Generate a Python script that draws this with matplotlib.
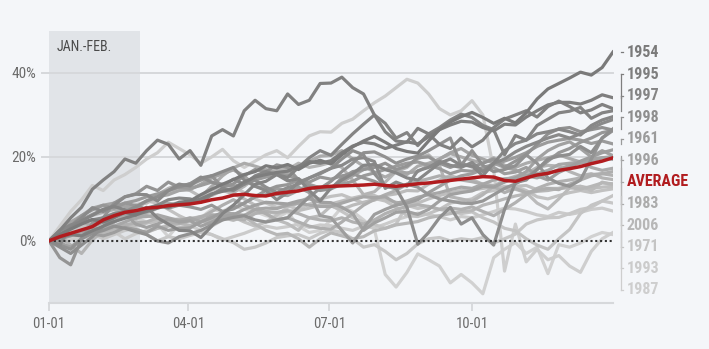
import numpy as np
import matplotlib.pyplot as plt

# weekly closes, % change since Jan 1 (S&P 500 years with a positive Jan. and Feb.)
days = np.arange(0, 365, 7)

y1954 = [0, 1.5, 2.8, 4.0, 5.1, 4.5, 5.6, 6.8, 6.2, 7.5, 8.3, 8.0, 9.2,
         9.5, 11.0, 12.3, 13.5, 14.6, 15.8, 16.5, 17.9, 17.4, 18.2, 17.0, 18.5, 19.2,
         18.3, 20.5, 22.4, 23.8, 24.9, 23.5, 22.0, 21.3, 20.9, 23.8, 26.5, 28.3, 29.6,
         30.6, 29.4, 28.0, 29.2, 28.1, 30.5, 33.8, 36.2, 37.5, 38.8, 40.2, 39.5, 41.3, 45.0]
y1995 = [0, 0.8, 1.5, 1.2, 2.4, 3.5, 4.6, 5.4, 6.2, 7.0, 7.8, 8.5, 8.9,
         9.2, 10.0, 11.2, 11.8, 12.4, 14.0, 15.2, 15.8, 16.3, 16.6, 17.8, 18.9, 18.5,
         19.1, 21.0, 22.6, 23.5, 23.1, 22.0, 22.8, 23.6, 23.1, 24.8, 26.5, 27.6, 28.5,
         28.3, 27.0, 26.2, 27.8, 27.6, 29.5, 31.0, 32.4, 33.0, 33.0, 32.6, 33.5, 34.8, 34.1]
y1997 = [0, 1.5, 3.0, 4.8, 6.1, 7.5, 8.2, 7.4, 6.8, 8.0, 5.5, 4.0, 2.5,
         2.4, 0.8, 3.5, 6.5, 8.5, 11.0, 13.5, 14.2, 15.8, 15.1, 17.5, 19.8, 21.5,
         20.4, 23.0, 25.5, 27.8, 30.0, 28.0, 24.5, 25.8, 22.7, 25.5, 27.0, 28.8, 30.2,
         29.4, 27.5, 26.5, 20.5, 25.1, 24.0, 27.5, 29.0, 30.5, 30.9, 31.8, 29.2, 30.5, 31.0]
y1998 = [0, -1.5, -3.0, -1.0, 1.0, 3.5, 5.5, 7.0, 8.1, 9.5, 10.5, 12.0, 13.0,
         13.6, 15.2, 14.0, 13.0, 14.7, 13.5, 14.5, 12.8, 11.5, 12.7, 13.5, 15.0, 16.2,
         17.3, 19.5, 21.5, 20.5, 16.0, 13.0, 12.5, 8.0, -0.8, 2.0, 5.5, 8.0, 4.0,
         5.5, 1.5, -1.0, 7.5, 13.9, 14.5, 17.0, 19.5, 20.2, 20.6, 22.5, 21.0, 24.5, 26.7]
y1961 = [0, 1.8, 3.5, 5.0, 6.3, 7.5, 8.2, 9.0, 9.6, 10.5, 11.2, 12.0, 12.8,
         12.5, 13.2, 14.0, 13.5, 12.9, 13.8, 14.5, 15.2, 16.0, 15.6, 14.8, 13.2, 12.8,
         12.4, 13.5, 14.2, 15.5, 16.2, 17.0, 17.8, 18.5, 18.8, 18.0, 17.2, 16.0, 16.8,
         16.6, 17.5, 18.2, 19.0, 19.9, 21.0, 22.5, 23.5, 24.0, 24.4, 24.0, 23.2, 23.8, 23.1]
y1996 = [0, -0.5, -1.5, 0.5, 3.3, 4.5, 5.8, 6.5, 4.0, 3.2, 4.0, 5.2, 4.5,
         4.8, 3.5, 4.5, 5.8, 6.2, 7.5, 8.5, 9.2, 9.0, 8.8, 9.5, 10.0, 9.2,
         9.1, 8.0, 6.5, 2.5, 4.3, 5.5, 6.8, 7.0, 6.3, 7.5, 9.5, 11.0, 11.5,
         11.9, 13.0, 12.8, 14.0, 15.0, 16.5, 19.5, 21.5, 22.8, 23.6, 22.0, 20.0, 21.5, 20.3]
y1983 = [0, 2.0, 3.5, 4.8, 3.3, 2.5, 4.5, 6.0, 5.3, 6.8, 8.0, 9.0, 8.5,
         9.2, 10.5, 13.0, 15.5, 17.4, 18.5, 17.8, 17.0, 16.2, 16.0, 17.5, 19.0, 20.2,
         20.4, 21.5, 19.5, 17.8, 16.4, 15.2, 16.5, 15.8, 17.8, 18.5, 19.5, 20.8, 20.0,
         19.2, 18.5, 19.8, 18.0, 17.5, 18.5, 19.2, 19.8, 20.5, 19.6, 18.8, 17.5, 16.8, 17.3]
y2006 = [0, 1.0, 2.2, 1.5, 2.5, 2.0, 2.8, 3.2, 2.6, 2.0, 3.0, 3.5, 4.2,
         3.7, 4.5, 5.0, 5.5, 4.9, 5.8, 4.0, 2.5, 1.5, 1.8, 0.5, -1.5, 0.5,
         1.9, 1.2, 0.5, 1.0, 2.4, 3.0, 3.8, 4.2, 4.6, 5.5, 6.0, 6.5, 7.0,
         7.2, 8.5, 9.2, 10.0, 10.7, 11.2, 11.8, 12.0, 12.5, 12.7, 12.3, 13.0, 13.8, 13.6]
y1971 = [0, 1.0, 2.5, 3.2, 4.0, 4.5, 5.5, 6.2, 5.0, 6.5, 7.8, 8.5, 9.2,
         8.9, 10.5, 12.0, 13.2, 13.0, 11.5, 10.0, 9.0, 8.0, 8.4, 7.5, 8.8, 9.5,
         8.5, 7.0, 5.5, 4.5, 3.9, 3.0, 4.0, 8.5, 7.7, 8.2, 7.5, 7.0, 6.5,
         6.9, 5.5, 4.5, 3.0, 2.4, 0.5, -1.0, -2.0, 0.5, 2.7, 6.5, 8.5, 9.5, 10.8]
y1993 = [0, -0.5, 0.2, 1.0, 0.7, 1.5, 2.2, 0.5, 1.7, 2.5, 3.0, 3.8, 3.2,
         3.6, 2.5, 1.5, 0.2, 1.0, 1.8, 2.8, 3.5, 3.0, 3.4, 4.0, 3.2, 3.8,
         3.6, 3.0, 2.5, 3.5, 3.1, 4.0, 5.0, 5.8, 6.6, 6.2, 5.8, 5.0, 5.8,
         5.5, 6.2, 7.0, 7.8, 7.6, 7.0, 6.2, 5.8, 6.8, 6.3, 6.8, 7.5, 7.8, 7.1]
y1987 = [0, 3.5, 7.0, 9.8, 13.2, 12.0, 14.5, 15.8, 17.5, 19.5, 21.0, 23.5, 22.0,
         20.5, 18.5, 20.0, 21.8, 19.1, 17.5, 19.0, 20.5, 21.5, 19.8, 22.5, 25.0, 26.0,
         25.9, 28.0, 29.0, 31.0, 32.9, 34.5, 36.5, 38.5, 37.6, 35.0, 31.5, 30.0, 31.0,
         33.4, 30.0, 17.0, -7.2, 4.0, -5.0, -2.0, -4.5, -3.5, -6.0, -7.5, -2.5, 0.5, 2.0]
y1975 = [0, 2.5, 5.5, 8.0, 12.3, 14.5, 16.5, 19.5, 18.5, 21.5, 24.0, 23.0, 19.5,
         21.5, 18.0, 25.0, 26.5, 25.0, 31.0, 33.5, 31.5, 31.0, 35.0, 32.5, 33.5, 37.5,
         37.6, 39.0, 36.5, 35.0, 30.0, 26.0, 23.8, 23.5, 26.8, 25.5, 23.0, 22.0, 24.5,
         22.4, 24.0, 27.0, 29.0, 30.0, 31.0, 29.5, 32.0, 33.3, 32.0, 30.5, 31.2, 32.5, 31.5]
y2013 = [0, 2.5, 3.8, 4.5, 5.0, 5.5, 6.5, 7.0, 6.2, 7.8, 8.5, 9.8, 10.2,
         10.0, 9.2, 11.0, 12.5, 12.0, 13.5, 15.5, 16.5, 15.8, 14.3, 14.8, 12.0, 9.5,
         12.6, 14.5, 16.0, 18.0, 18.2, 17.0, 16.2, 15.0, 14.5, 16.5, 18.5, 19.5, 18.0,
         17.9, 15.5, 18.5, 21.5, 23.2, 24.0, 25.5, 26.0, 26.6, 26.0, 25.2, 27.5, 28.8, 29.6]
y2019 = [0, -1.0, 3.5, 5.5, 7.9, 7.0, 8.5, 10.5, 11.1, 11.0, 9.5, 12.0, 13.5,
         13.1, 15.0, 15.5, 16.5, 17.5, 14.5, 13.0, 12.0, 9.8, 11.5, 14.0, 15.0, 16.0,
         17.3, 18.0, 19.5, 19.8, 18.9, 12.5, 14.0, 13.0, 16.7, 17.5, 19.0, 18.0, 17.5,
         18.7, 16.5, 18.5, 19.5, 21.2, 22.5, 23.5, 24.5, 25.3, 24.5, 25.5, 26.8, 28.0, 28.9]
y1985 = [0, 1.5, 3.5, 6.0, 7.4, 8.5, 7.8, 9.0, 8.4, 7.5, 8.5, 7.8, 8.5,
         8.1, 7.5, 8.5, 7.0, 7.6, 9.0, 10.5, 12.0, 13.0, 13.4, 14.5, 14.0, 15.2,
         14.7, 15.5, 16.0, 15.0, 14.2, 13.0, 12.5, 13.5, 12.8, 11.0, 10.0, 9.5, 9.0,
         8.9, 9.5, 11.0, 12.5, 13.6, 15.0, 17.0, 19.0, 21.0, 22.0, 23.5, 24.5, 25.8, 26.3]
y1991 = [0, -4.0, -5.7, 0.5, 4.2, 5.5, 9.0, 10.5, 11.2, 13.0, 12.0, 14.0, 12.8,
         13.6, 14.5, 15.5, 12.8, 13.6, 15.5, 17.0, 16.5, 18.1, 17.5, 14.5, 13.0, 12.0,
         12.4, 15.0, 16.5, 17.0, 17.5, 18.5, 17.0, 17.8, 19.8, 20.0, 18.5, 17.5, 18.5,
         17.6, 18.5, 19.5, 17.5, 19.0, 20.5, 18.5, 15.0, 13.7, 13.0, 14.5, 19.5, 24.5, 26.3]
y1950 = [0, 0.5, 1.2, 2.5, 1.7, 1.2, 2.0, 3.2, 2.7, 2.0, 3.5, 2.5, 3.0,
         3.1, 4.5, 5.5, 6.8, 7.8, 9.0, 10.5, 11.0, 12.5, 12.0, 12.8, 11.5, 6.0,
         5.5, 2.5, -0.5, 3.0, 6.3, 7.5, 8.5, 9.0, 9.8, 11.5, 13.0, 14.5, 15.5,
         16.0, 17.0, 17.5, 16.0, 16.4, 17.5, 15.5, 14.5, 16.3, 17.5, 19.0, 20.0, 21.0, 21.7]
y1967 = [0, 2.5, 4.5, 6.0, 7.8, 8.5, 9.0, 8.2, 8.0, 9.5, 10.5, 11.0, 12.0,
         12.2, 13.5, 15.0, 16.0, 16.9, 15.5, 13.0, 12.5, 11.0, 10.8, 12.0, 13.5, 12.5,
         12.8, 14.0, 15.5, 17.0, 17.9, 17.0, 16.5, 16.2, 16.5, 18.0, 19.5, 21.0, 22.0,
         20.4, 19.5, 18.5, 17.5, 16.9, 15.5, 15.0, 16.0, 17.0, 18.0, 18.5, 19.5, 19.8, 20.1]
y2017 = [0, 1.2, 1.5, 2.0, 1.8, 2.5, 3.5, 4.5, 5.6, 5.8, 6.2, 5.5, 4.8,
         5.5, 4.5, 6.0, 6.5, 6.5, 6.0, 7.5, 7.8, 7.7, 8.5, 9.0, 8.5, 8.2,
         8.2, 9.0, 9.8, 10.5, 10.3, 10.5, 9.0, 9.5, 10.4, 11.0, 11.5, 12.2, 12.8,
         12.5, 13.5, 14.5, 14.8, 15.0, 15.5, 16.0, 16.8, 18.2, 18.5, 18.8, 19.0, 19.8, 19.4]
y1972 = [0, 0.5, 1.5, 1.2, 1.8, 2.5, 3.2, 3.8, 4.3, 4.5, 5.5, 5.2, 5.0,
         5.0, 5.8, 6.2, 5.5, 5.4, 5.0, 6.5, 7.0, 6.8, 7.2, 6.5, 5.5, 5.0,
         4.8, 5.5, 4.5, 4.0, 5.0, 6.5, 7.5, 8.2, 8.6, 8.2, 7.5, 7.8, 7.5,
         8.1, 7.0, 6.0, 7.5, 9.1, 11.0, 12.5, 13.5, 14.1, 14.5, 15.0, 15.8, 16.0, 15.6]
y1986 = [0, 1.0, -1.0, -3.0, 0.2, 2.5, 4.5, 6.0, 7.4, 9.5, 11.0, 12.5, 13.5,
         13.1, 14.5, 15.5, 12.5, 11.5, 13.0, 15.0, 16.0, 17.0, 17.0, 18.5, 17.5, 18.0,
         18.7, 17.5, 14.5, 11.0, 11.7, 14.0, 16.5, 17.5, 19.6, 20.5, 18.0, 10.5, 10.0,
         9.4, 11.0, 13.0, 14.5, 15.4, 16.0, 17.5, 18.0, 17.8, 16.5, 15.5, 16.0, 15.0, 14.6]
y1964 = [0, 0.8, 1.5, 2.2, 2.7, 2.8, 3.2, 3.5, 3.7, 4.2, 4.8, 5.0, 5.2,
         5.3, 5.8, 6.2, 6.0, 5.9, 6.2, 6.8, 7.0, 6.5, 7.1, 7.2, 7.8, 8.5,
         8.8, 9.5, 10.2, 10.8, 10.8, 9.8, 9.2, 8.8, 9.0, 10.0, 10.8, 11.5, 12.0,
         12.1, 12.5, 12.8, 12.8, 13.0, 13.2, 12.2, 12.5, 12.5, 12.8, 13.0, 12.5, 12.8, 13.0]
y2012 = [0, 2.0, 3.0, 4.0, 4.4, 5.5, 6.5, 7.5, 8.6, 9.0, 10.5, 11.5, 12.8,
         12.0, 10.5, 10.8, 12.0, 11.2, 10.0, 8.5, 6.5, 5.0, 4.1, 2.5, 5.5, 6.0,
         8.3, 7.5, 8.5, 9.2, 9.7, 10.8, 11.2, 12.0, 11.9, 13.5, 14.5, 15.5, 14.8,
         14.6, 13.5, 13.2, 12.5, 12.3, 11.5, 9.0, 7.6, 10.0, 12.6, 13.0, 12.0, 14.0, 13.4]
y1988 = [0, 2.5, -1.5, 0.5, 4.0, 5.0, 6.5, 7.5, 8.4, 9.5, 9.0, 7.5, 6.0,
         4.8, 5.5, 3.5, 5.0, 5.7, 4.5, 3.5, 4.5, 6.1, 8.0, 9.0, 10.5, 10.0,
         10.6, 11.0, 10.0, 9.0, 10.1, 9.5, 8.0, 6.0, 5.8, 6.5, 7.5, 9.0, 9.5,
         10.0, 11.5, 12.0, 13.0, 12.9, 12.0, 10.5, 10.0, 10.8, 11.5, 12.0, 11.5, 12.0, 12.4]
y2004 = [0, 1.0, 1.5, 2.0, 1.7, 0.5, 1.5, 2.5, 3.0, 1.5, 0.0, 1.0, 0.5,
         1.3, 2.0, 1.5, 0.5, -0.4, -2.0, -1.5, -0.5, 0.8, 1.2, 1.5, 0.5, 1.8,
         2.6, 2.0, 0.5, -1.5, -0.9, -2.5, -4.5, -3.0, -0.7, 0.5, 0.8, 0.0, 0.5,
         0.2, 0.8, -0.5, 0.5, 1.6, 4.0, 5.0, 5.5, 5.6, 6.5, 7.5, 8.0, 9.5, 9.0]
y2011 = [0, 1.5, 0.5, 1.8, 2.3, 4.0, 5.5, 6.0, 5.5, 4.5, 4.0, 1.0, 4.0,
         5.4, 5.5, 7.5, 7.0, 8.4, 7.5, 7.0, 6.0, 5.5, 6.9, 3.5, 2.0, 2.5,
         5.0, 8.0, 7.0, 5.0, 2.7, -8.0, -11.0, -7.5, -3.1, -4.5, -6.0, -10.0, -8.0,
         -10.0, -12.6, -4.0, -2.0, -0.4, -3.0, -1.5, -7.8, -0.9, -1.5, -0.5, 1.0, 2.0, 1.5]
y1951 = [0, 2.0, 3.5, 5.0, 6.1, 6.8, 7.5, 7.0, 6.7, 6.0, 5.5, 4.5, 4.2,
         4.8, 5.5, 7.0, 8.5, 9.8, 8.5, 7.5, 6.5, 5.0, 5.5, 4.5, 3.5, 3.0,
         2.8, 4.5, 6.5, 8.5, 9.9, 11.0, 12.0, 13.5, 14.2, 14.8, 15.5, 15.0, 14.5,
         14.1, 13.5, 13.0, 11.5, 12.5, 11.5, 12.0, 12.5, 12.2, 13.5, 14.5, 15.5, 16.0, 16.5]
y1955 = [0, -1.0, -2.0, 0.5, 1.8, 2.5, 3.5, 3.0, 2.2, 1.5, 0.0, -0.5, 1.0,
         1.7, 2.5, 3.8, 5.0, 5.6, 6.0, 5.0, 4.5, 5.0, 5.5, 8.0, 10.5, 12.5,
         14.2, 16.5, 18.5, 21.0, 21.2, 20.0, 18.5, 19.5, 20.2, 21.5, 23.0, 24.5, 18.0,
         21.5, 18.0, 16.5, 17.0, 17.9, 20.5, 23.0, 25.5, 26.7, 27.0, 26.0, 26.5, 27.0, 26.4]

average = [0.0, 1.0, 1.8, 2.6, 3.4, 5.0, 6.0, 6.8, 7.2, 7.8, 8.0, 8.4, 8.6,
           8.8, 9.2, 9.8, 10.2, 10.9, 11.1, 10.8, 10.7, 11.3, 11.6, 11.9, 12.5, 12.8,
           13.0, 13.1, 13.2, 13.3, 13.5, 13.2, 13.0, 13.3, 13.6, 13.8, 14.1, 14.4, 14.7,
           15.0, 15.3, 15.2, 14.4, 14.2, 15.0, 15.7, 16.1, 16.8, 17.2, 17.7, 18.4, 19.0, 19.8]

years = {
    '1954': y1954, '1995': y1995, '1997': y1997, '1998': y1998, '1961': y1961,
    '1996': y1996, '1983': y1983, '2006': y2006, '1971': y1971, '1993': y1993,
    '1987': y1987, '1975': y1975, '2013': y2013, '2019': y2019, '1985': y1985,
    '1991': y1991, '1950': y1950, '1967': y1967, '2017': y2017, '1972': y1972,
    '1986': y1986, '1964': y1964, '2012': y2012, '1988': y1988, '2004': y2004,
    '2011': y2011, '1951': y1951, '1955': y1955,
}
labelled = ['1954', '1995', '1997', '1998', '1961', '1996', 'AVERAGE',
            '1983', '2006', '1971', '1993', '1987']

month_ticks = [0, 90, 181, 273]
month_labels = ['01-01', '04-01', '07-01', '10-01']
jan_feb_end = 59

RED = '#b11c1f'
BG = '#f4f6f9'

# narrow face if one is around, plain sans otherwise
plt.rcParams['font.family'] = ['Roboto Condensed', 'Liberation Sans Narrow',
                               'Open Sans Condensed', 'DejaVu Sans']
plt.rcParams['font.stretch'] = 'condensed'

fig = plt.figure(figsize=(7.09, 3.49), dpi=100, facecolor=BG)
ax = fig.add_axes([49 / 709, 46 / 349, 564 / 709, 272 / 349], facecolor=BG)

# lighter grey for lower year-end finish, darker ones drawn on top
order = sorted(years, key=lambda k: years[k][-1])
greys = np.linspace(0.82, 0.48, len(order))
colours = {}
for k, g in zip(order, greys):
    colours[k] = (g, g, g)
    ax.plot(days, years[k], color=colours[k], lw=2.3, solid_joinstyle='round', zorder=2)

ax.axvspan(0, jan_feb_end, color='#e1e4e8', zorder=0, lw=0)
for v in (20, 40):
    ax.axhline(v, xmin=-0.013, xmax=1, color='#d6d8db', lw=1.4, zorder=1, clip_on=False)
ax.axhline(0, color='#333333', lw=1.5, ls=(0, (1, 1.3)), zorder=4)
ax.plot(days, average, color=RED, lw=2.5, zorder=5)

ax.text(5, 46.2, 'JAN.-FEB.', fontsize=10, color='#4a4a4a', va='center', ha='left')

ax.set_xlim(0, 364)
ax.set_ylim(-14.8, 50)
ax.set_yticks([0, 20, 40])
ax.set_yticklabels(['0%', '20%', '40%'])
ax.set_xticks(month_ticks)
ax.set_xticklabels(month_labels)
ax.tick_params(axis='y', length=0, pad=9, labelsize=11, labelcolor='#6b6b6b')
ax.tick_params(axis='x', length=6, width=1.3, color='#d6d8db', pad=4,
               labelsize=10.5, labelcolor='#6b6b6b')
for s in ('top', 'right', 'left'):
    ax.spines[s].set_visible(False)
ax.spines['bottom'].set_color('#d6d8db')
ax.spines['bottom'].set_linewidth(1.5)

# right-hand year labels with connectors back to each line's final value
trans = ax.get_yaxis_transform()
label_y = np.linspace(44.9, -11.7, len(labelled))
xb = 1.0133
for name, ly in zip(labelled, label_y):
    if name == 'AVERAGE':
        end = average[-1]
        tcol = RED
        bcol = (0.66, 0.66, 0.66)
    else:
        end = years[name][-1]
        tcol = colours[name]
        bcol = colours[name]
    ax.plot([xb, xb], [end, ly], color=bcol, lw=0.9, transform=trans, clip_on=False)
    ax.plot([xb, xb + 0.005], [ly, ly], color=bcol, lw=0.9,
            transform=trans, clip_on=False)
    ax.text(1.0248, ly, name, transform=trans, ha='left', va='center',
            fontsize=11.5, fontweight='bold', color=tcol)

fig.savefig('out.png', dpi=100, facecolor=BG)
